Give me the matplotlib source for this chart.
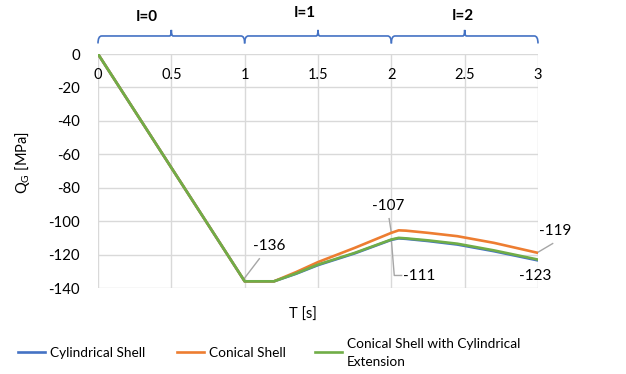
import matplotlib
matplotlib.use("Agg")
import matplotlib.pyplot as plt
from matplotlib.path import Path
from matplotlib.patches import PathPatch
from matplotlib.lines import Line2D
from matplotlib.transforms import blended_transform_factory

plt.rcParams['font.family'] = ['Lato', 'DejaVu Sans']
plt.rcParams['axes.unicode_minus'] = False
plt.rcParams['mathtext.fontset'] = 'custom'
plt.rcParams['mathtext.rm'] = 'Lato'

# data
t = [0, 1, 1.2, 1.35, 1.5, 1.75, 2.0, 2.05, 2.1, 2.25, 2.45, 2.7, 3.0]
cylindrical = [0, -136, -136, -131.5, -126.3, -119.3, -111.2, -110.3, -110.6, -111.9, -114, -118, -123.5]
conical = [0, -136, -136, -130.5, -124.5, -116, -107, -105.5, -105.7, -107, -109, -113, -119]
conical_ext = [0, -136, -136, -131.3, -126, -119, -111, -110, -110.3, -111.5, -113.5, -117.5, -123]

names = ['Cylindrical Shell', 'Conical Shell', 'Conical Shell with Cylindrical\nExtension']
colors = ['#4472C4', '#ED7D31', '#70AD47']
x_ticks = [0, 0.5, 1, 1.5, 2, 2.5, 3]
x_tick_labels = ['0', '0.5', '1', '1.5', '2', '2.5', '3']
y_ticks = [0, -20, -40, -60, -80, -100, -120, -140]
intervals = [(0, 1, 'I=0'), (1, 2, 'I=1'), (2, 3, 'I=2')]

W, H = 626, 374
fig = plt.figure(figsize=(W / 100, H / 100), dpi=100)
ax = fig.add_axes([98 / W, 1 - 288 / H, 440 / W, 234 / H])

for y, c in zip([cylindrical, conical, conical_ext], colors):
    ax.plot(t, y, color=c, lw=1.9, solid_joinstyle='round', zorder=3)

ax.set_xlim(0, 3)
ax.set_ylim(-140, 0)
ax.set_xticks(x_ticks)
ax.set_xticklabels([])
ax.set_yticks(y_ticks)
ax.set_yticklabels([str(v) for v in y_ticks], fontsize=10.8)
ax.tick_params(length=0, pad=13)
ax.grid(color='#d9d9d9', lw=1)
for s in ax.spines.values():
    s.set_visible(False)

# x tick labels sit just under the zero line
for xv, lab in zip(x_ticks, x_tick_labels):
    ax.text(xv, -12.5, lab, ha='center', va='center', fontsize=10.5)

# data labels
gray = '#a6a6a6'
fs = 11
ax.text(1.17, -115, '-136', ha='center', va='center', fontsize=fs)
ax.plot([1.0, 1.10], [-134, -122.5], color=gray, lw=1, zorder=2)
ax.text(1.98, -91, '-107', ha='center', va='center', fontsize=fs)
ax.plot([1.985, 2.0], [-98.5, -107], color=gray, lw=1, zorder=2)
ax.text(2.19, -133, '-111', ha='center', va='center', fontsize=fs)
ax.plot([2.0, 2.02, 2.07], [-111, -132.5, -132.5], color=gray, lw=1, zorder=2)
ax.text(3.12, -106, '-119', ha='center', va='center', fontsize=fs, clip_on=False)
ax.plot([3.0, 3.10], [-118.6, -113.4], color=gray, lw=1, zorder=2, clip_on=False)
ax.text(2.98, -132.6, '-123', ha='center', va='center', fontsize=fs)

# braces over the intervals
tr = blended_transform_factory(ax.transData, ax.transAxes)
y0, y1, y2 = 1.045, 1.077, 1.103
d = 0.025
label_x = [0.33, 1.41, 2.49]
label_y = [1.16, 1.175, 1.163]
for (a, b, lab), lx, ly in zip(intervals, label_x, label_y):
    m = (a + b) / 2
    verts = [(a, y0), (a, y1), (a + d, y1), (m - d / 2, y1), (m, y1), (m, y2),
             (m, y1), (m + d / 2, y1), (b - d, y1), (b, y1), (b, y0)]
    codes = [Path.MOVETO, Path.CURVE3, Path.CURVE3, Path.LINETO, Path.CURVE3, Path.CURVE3,
             Path.CURVE3, Path.CURVE3, Path.LINETO, Path.CURVE3, Path.CURVE3]
    ax.add_patch(PathPatch(Path(verts, codes), transform=tr, fill=False,
                           edgecolor='#4472C4', lw=1.2, clip_on=False))
    ax.text(lx, ly, lab, transform=tr, ha='center', va='center',
            fontsize=11, fontweight='bold')

fig.text(22 / W, 1 - 163 / H, r'Q$_\mathrm{G}$ [MPa]', rotation=90,
         ha='center', va='center', fontsize=10.5)
fig.text(303 / W, 1 - 315 / H, 'T [s]', ha='center', va='center', fontsize=10.5)

# legend
leg_x = [18, 177, 315]
for x, name, c in zip(leg_x, names, colors):
    fig.add_artist(Line2D([x / W, (x + 27) / W], [1 - 352 / H] * 2, color=c, lw=1.9))
    fig.text((x + 32) / W, 1 - 353 / H, name, ha='left', va='center',
             fontsize=9.8, linespacing=1.6)

fig.savefig('out.png', dpi=100)
